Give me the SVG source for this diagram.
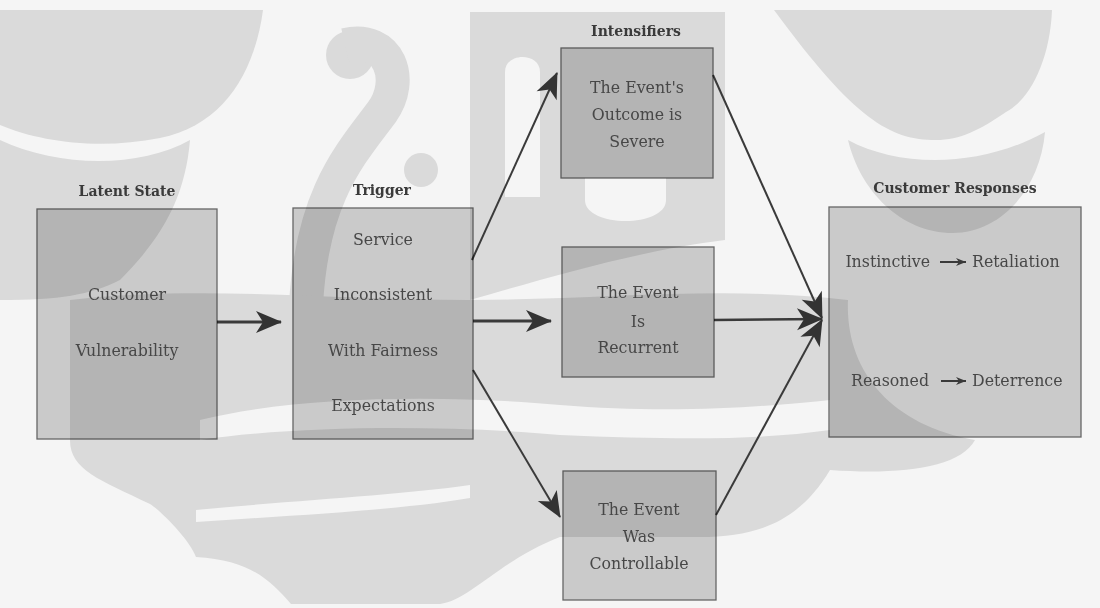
<svg xmlns="http://www.w3.org/2000/svg" width="1100" height="608" viewBox="0 0 1100 608">
<style>
.wm{fill:#dadada}
.wh{fill:#f5f5f5}
.box{fill:#d3d3d3;stroke:#6a6a6a;stroke-width:1.3;mix-blend-mode:multiply}
.t{font-family:"DejaVu Serif","Liberation Serif",serif;font-size:15.8px;fill:#474747;text-anchor:middle}
.h{font-family:"DejaVu Serif","Liberation Serif",serif;font-size:14px;font-weight:bold;fill:#3a3a3a;text-anchor:middle}
.c{fill:none;stroke:#3a3a3a;stroke-linecap:butt}
</style>
<defs>
<marker id="ah" markerUnits="userSpaceOnUse" markerWidth="30" markerHeight="26" viewBox="-27 -13 29 26" refX="0" refY="0" orient="auto">
<path d="M1,0 L-25,-11 L-18,0 L-25,11 Z" fill="#333"/>
</marker>
<marker id="sm" markerUnits="userSpaceOnUse" markerWidth="14" markerHeight="10" viewBox="-12 -5 13 10" refX="0" refY="0" orient="auto">
<path d="M0,0 L-10,-4 L-7,0 L-10,4 Z" fill="#3a3a3a"/>
</marker>
</defs>
<rect width="1100" height="608" fill="#f5f5f5"/>
<g id="watermark">
<path class="wm" d="M0,10 L263,10 C255,70 225,125 160,138 C100,150 40,142 0,125 Z"/>
<path class="wm" d="M0,140 C60,168 140,168 190,140 C185,200 160,240 120,280 C90,295 60,300 0,300 Z"/>
<circle class="wm" cx="350" cy="55" r="24"/>
<path d="M345,45 C390,35 405,80 382,112 C350,155 312,195 306,305" fill="none" stroke="#dadada" stroke-width="34"/>
<circle class="wm" cx="421" cy="170" r="17"/>
<path class="wm" d="M470,12 L725,12 L725,240 C640,250 540,280 470,300 Z"/>
<path class="wh" d="M505,72 C505,52 540,52 540,72 L540,197 L505,197 Z"/>
<path class="wh" d="M585,178 L666,178 L666,200 C666,228 585,228 585,200 Z"/>
<path class="wm" d="M774,10 L1052,10 C1050,60 1030,100 1006,112 C980,130 960,140 936,140 C890,140 855,120 774,10 Z"/>
<path class="wm" d="M848,140 C900,168 980,168 1045,132 C1040,190 1000,233 953,233 C900,233 860,190 848,140 Z"/>
<path class="wm" d="M70,300 C200,285 330,300 470,300 C600,300 720,285 848,300 C845,370 890,425 975,440 C960,468 900,475 830,470 C800,520 760,537 700,537 L560,537 C500,560 470,600 440,604 L291,604 C270,580 250,560 196,557 C190,540 160,510 150,504 C100,480 70,470 70,440 Z"/>
<path class="wh" d="M200,420 C300,395 450,395 560,405 C680,415 780,405 830,400 L830,430 C760,440 680,440 560,435 C450,425 300,425 200,440 Z"/>
<path class="wh" d="M196,510 C300,500 400,495 470,485 L470,498 C400,510 300,515 196,522 Z"/>
</g>
<g id="connectors">
<path class="c" d="M217,322 L281,322" stroke-width="3" marker-end="url(#ah)"/>
<path class="c" d="M472,260 L557,73" stroke-width="2" marker-end="url(#ah)"/>
<path class="c" d="M473,321 L551,321" stroke-width="3" marker-end="url(#ah)"/>
<path class="c" d="M473,370 L560,517" stroke-width="2" marker-end="url(#ah)"/>
<path class="c" d="M713,75 L822,318" stroke-width="2" marker-end="url(#ah)"/>
<path class="c" d="M714,320 L822,319" stroke-width="2.5" marker-end="url(#ah)"/>
<path class="c" d="M716,515 L822,320" stroke-width="2" marker-end="url(#ah)"/>
</g>
<g id="latent-state">
<rect class="box" x="37" y="209" width="180" height="230"/>
<text class="h" x="127" y="196">Latent State</text>
<text class="t" x="127" y="300">Customer</text>
<text class="t" x="127" y="356">Vulnerability</text>
</g>
<g id="trigger">
<rect class="box" x="293" y="208" width="180" height="231"/>
<text class="h" x="382" y="195">Trigger</text>
<text class="t" x="383" y="245">Service</text>
<text class="t" x="383" y="300">Inconsistent</text>
<text class="t" x="383" y="356">With Fairness</text>
<text class="t" x="383" y="411">Expectations</text>
</g>
<g id="intensifier-severe">
<rect class="box" x="561" y="48" width="152" height="130"/>
<text class="h" x="636" y="36">Intensifiers</text>
<text class="t" x="637" y="93">The Event's</text>
<text class="t" x="637" y="120">Outcome is</text>
<text class="t" x="637" y="147">Severe</text>
</g>
<g id="intensifier-recurrent">
<rect class="box" x="562" y="247" width="152" height="130"/>
<text class="t" x="638" y="298">The Event</text>
<text class="t" x="638" y="327">Is</text>
<text class="t" x="638" y="353">Recurrent</text>
</g>
<g id="intensifier-controllable">
<rect class="box" x="563" y="471" width="153" height="129"/>
<text class="t" x="639" y="515">The Event</text>
<text class="t" x="639" y="542">Was</text>
<text class="t" x="639" y="569">Controllable</text>
</g>
<g id="customer-responses">
<rect class="box" x="829" y="207" width="252" height="230"/>
<text class="h" x="955" y="193">Customer Responses</text>
<text class="t" x="930" y="267" style="text-anchor:end">Instinctive</text>
<path d="M940,262 L966,262" stroke="#3a3a3a" stroke-width="2" marker-end="url(#sm)"/>
<text class="t" x="972" y="267" style="text-anchor:start">Retaliation</text>
<text class="t" x="929" y="386" style="text-anchor:end">Reasoned</text>
<path d="M941,381 L966,381" stroke="#3a3a3a" stroke-width="2" marker-end="url(#sm)"/>
<text class="t" x="972" y="386" style="text-anchor:start">Deterrence</text>
</g>
</svg>
